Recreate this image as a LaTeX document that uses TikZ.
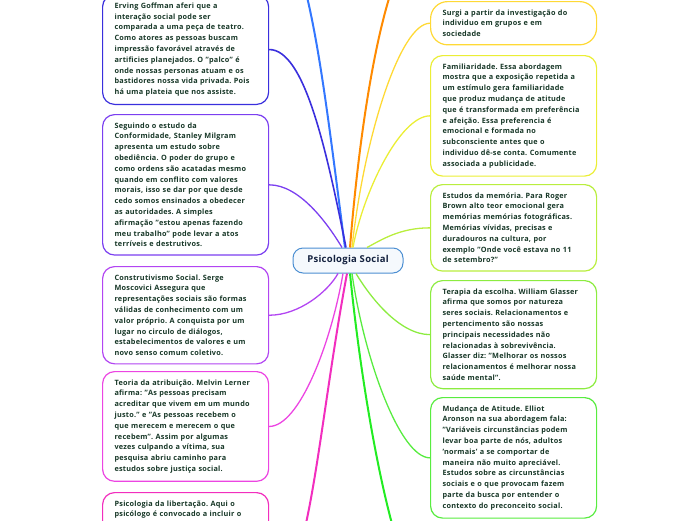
\documentclass[tikz,border=0pt]{standalone}
\usepackage{fontspec}
\setmainfont{Open Sans}[LetterSpace=3]
\usepackage{tikz}
\usetikzlibrary{positioning}
\frenchspacing
\definecolor{ink}{HTML}{183828}
\definecolor{hubink}{HTML}{14223F}
\definecolor{hubline}{HTML}{4C8FD2}
\definecolor{hubfill}{HTML}{F5F9FD}
\definecolor{skyblue}{HTML}{3377FF}
\definecolor{royal}{HTML}{3A2FDD}
\definecolor{purple}{HTML}{7B3FF0}
\definecolor{violet}{HTML}{B245F2}
\definecolor{magenta}{HTML}{EC45E2}
\definecolor{pink}{HTML}{F22EBE}
\definecolor{tangerine}{HTML}{FF8A00}
\definecolor{sun}{HTML}{FFD935}
\definecolor{lemon}{HTML}{EBEE35}
\definecolor{lime}{HTML}{B9EE3E}
\definecolor{grass}{HTML}{8CEC40}
\definecolor{leaf}{HTML}{58EC40}
\definecolor{green}{HTML}{22EC22}

\begin{document}
\begin{tikzpicture}[x=1pt,y=-1pt,
    card/.style={draw,line width=1.2pt,rounded corners=12pt,fill=white,align=left,
      text width=142pt,inner xsep=12pt,inner ysep=8pt,text=ink,
      font=\fontsize{7.3}{10.8}\selectfont\bfseries},
    branch/.style={line width=1.3pt},
    trunk/.style={line width=2pt}]
  \useasboundingbox (0,0) rectangle (696,520);
  \clip (0,0) rectangle (696,520);
  \node[draw=hubline,fill=hubfill,line width=1pt,rounded corners=10pt,minimum width=110pt,
    minimum height=25pt,text=hubink,font=\fontsize{9.5}{11}\selectfont\bfseries] (hub) at (348,260.5) {Psicologia Social};
  \node[card,draw=royal,anchor=south west] (goffman) at (102,105) {Erving Goffman aferi que a\\
    interação social pode ser\\
    comparada a uma peça de teatro.\\
    Como atores as pessoas buscam\\
    impressão favorável através de\\
    artificies planejados. O "palco" é\\
    onde nossas personas atuam e os\\
    bastidores nossa vida privada. Pois\\
    há uma plateia que nos assiste.};
  \node[card,draw=purple,anchor=north west] (milgram) at (102,114) {Seguindo o estudo da\\
    Conformidade, Stanley Milgram\\
    apresenta um estudo sobre\\
    obediência. O poder do grupo e\\
    como ordens são acatadas mesmo\\
    quando em conflito com valores\\
    morais, isso se dar por que desde\\
    cedo somos ensinados a obedecer\\
    as autoridades. A simples\\
    afirmação "estou apenas fazendo\\
    meu trabalho" pode levar a atos\\
    terríveis e destrutivos.};
  \node[card,draw=violet,anchor=north west] (moscovici) at (102,266) {Construtivismo Social. Serge\\
    Moscovici Assegura que\\
    representações sociais são formas\\
    válidas de conhecimento com um\\
    valor próprio. A conquista por um\\
    lugar no circulo de diálogos,\\
    estabelecimentos de valores e um\\
    novo senso comum coletivo.};
  \node[card,draw=magenta,anchor=north west] (lerner) at (102,371) {Teoria da atribuição. Melvin Lerner\\
    afirma: "As pessoas precisam\\
    acreditar que vivem em um mundo\\
    justo." e "As pessoas recebem o\\
    que merecem e merecem o que\\
    recebem". Assim por algumas\\
    vezes culpando a vítima, sua\\
    pesquisa abriu caminho para\\
    estudos sobre justiça social.};
  \node[card,draw=pink,anchor=north west,text depth=180pt] (libertacao) at (102,492) {Psicologia da libertação. Aqui o\\
    psicólogo é convocado a incluir o};
  \node[card,draw=sun,rounded corners=17pt,anchor=north west] (origem) at (430,1) {Surgi a partir da investigação do\\
    individuo em grupos e em\\
    sociedade};
  \node[card,draw=lemon,anchor=north west] (familiaridade) at (430,55) {Familiaridade. Essa abordagem\\
    mostra que a exposição repetida a\\
    um estímulo gera familiaridade\\
    que produz mudança de atitude\\
    que é transformada em preferência\\
    e afeição. Essa preferencia é\\
    emocional e formada no\\
    subconsciente antes que o\\
    individuo dê-se conta. Comumente\\
    associada a publicidade.};
  \node[card,draw=lime,anchor=north west] (memoria) at (430,184) {Estudos da memória. Para Roger\\
    Brown alto teor emocional gera\\
    memórias memórias fotográficas.\\
    Memórias vívidas, precisas e\\
    duradouros na cultura, por\\
    exemplo "Onde você estava no 11\\
    de setembro?"};
  \node[card,draw=grass,anchor=north west] (terapia) at (430,280) {Terapia da escolha. William Glasser\\
    afirma que somos por natureza\\
    seres sociais. Relacionamentos e\\
    pertencimento são nossas\\
    principais necessidades não\\
    relacionadas à sobrevivência.\\
    Glasser diz: "Melhorar os nossos\\
    relacionamentos é melhorar nossa\\
    saúde mental".};
  \node[card,draw=leaf,anchor=north west] (atitude) at (430,397) {Mudança de Atitude. Elliot\\
    Aronson na sua abordagem fala:\\
    "Variáveis circunstâncias podem\\
    levar boa parte de nós, adultos\\
    'normais' a se comportar de\\
    maneira não muito apreciável.\\
    Estudos sobre as circunstâncias\\
    sociais e o que provocam fazem\\
    parte da busca por entender o\\
    contexto do preconceito social.};
  \coordinate (upleft) at (268,-75);
  \coordinate (upright) at (430,-65);
  \coordinate (downright) at (430,600);
  \draw[trunk,skyblue] ([xshift=-3pt]hub.north) .. controls +(-20,-150) and +(40,0) .. (upleft);
  \draw[branch,royal,line width=1.6pt] ([xshift=-2pt]hub.north) .. controls +(-20,-100) and +(35,0) .. (goffman.east);
  \draw[branch,purple] ([xshift=-6pt]hub.north) .. controls +(-15,-25) and +(30,0) .. (milgram.east);
  \draw[branch,violet] ([xshift=-10pt]hub.south) .. controls +(-10,18) and +(30,0) .. (moscovici.east);
  \draw[branch,magenta] ([xshift=-5pt]hub.south) .. controls +(-12,70) and +(30,0) .. (lerner.east);
  \draw[trunk,pink] ([xshift=-1pt]hub.south) .. controls +(-30,160) and +(40,0) .. (libertacao.east);
  \draw[trunk,tangerine] ([xshift=2pt]hub.north) .. controls +(12,-150) and +(-40,0) .. (upright);
  \draw[branch,sun] ([xshift=4pt]hub.north) .. controls +(12,-110) and +(-30,0) .. (origem.west);
  \draw[branch,lemon] ([xshift=5pt]hub.north) .. controls +(10,-55) and +(-30,0) .. (familiaridade.west);
  \draw[branch,lime] ([xshift=19pt]hub.north) .. controls +(15,-8) and +(-30,0) .. (memoria.west);
  \draw[branch,grass] ([xshift=8pt]hub.south) .. controls +(15,25) and +(-30,0) .. (terapia.west);
  \draw[branch,leaf] ([xshift=4pt]hub.south) .. controls +(12,85) and +(-30,0) .. (atitude.west);
  \draw[trunk,green] ([xshift=2pt]hub.south) .. controls +(15,150) and +(-30,0) .. (downright);
\end{tikzpicture}
\end{document}
